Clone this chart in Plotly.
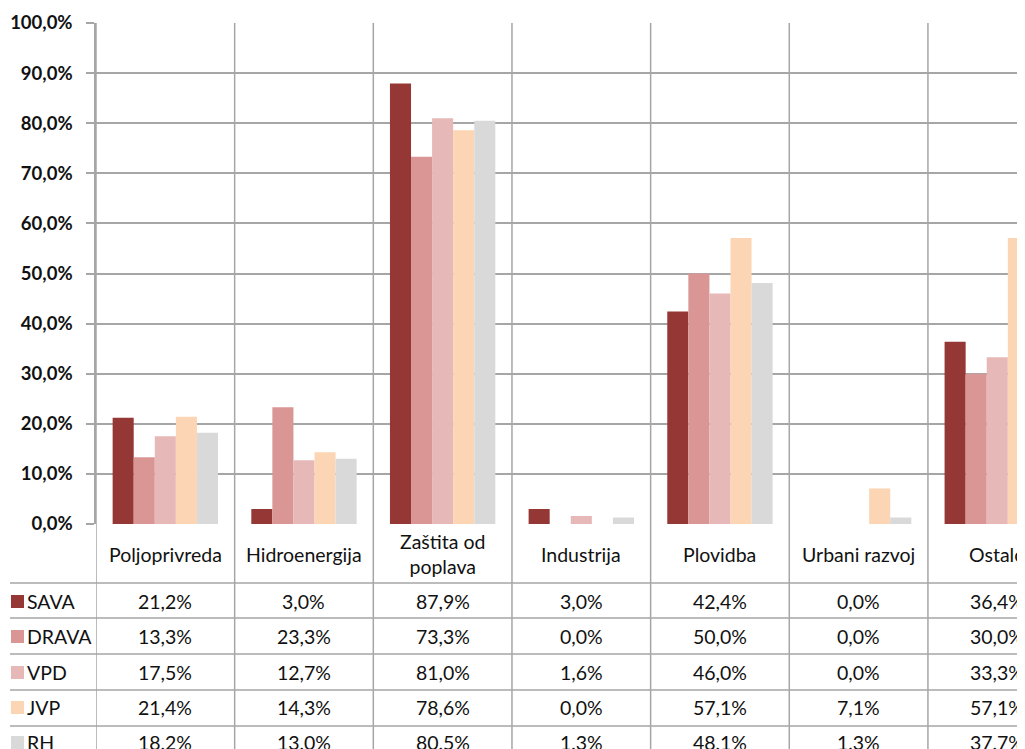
import plotly.graph_objects as go

# data
categories = ["Poljoprivreda", "Hidroenergija", "Zaštita od poplava", "Industrija",
              "Plovidba", "Urbani razvoj", "Ostalo"]
header_labels = ["Poljoprivreda", "Hidroenergija", "Zaštita od<br>poplava", "Industrija",
                 "Plovidba", "Urbani razvoj", "Ostalo"]
series_names = ["SAVA", "DRAVA", "VPD", "JVP", "RH"]
sava = [21.2, 3.0, 87.9, 3.0, 42.4, 0.0, 36.4]
drava = [13.3, 23.3, 73.3, 0.0, 50.0, 0.0, 30.0]
vpd = [17.5, 12.7, 81.0, 1.6, 46.0, 0.0, 33.3]
jvp = [21.4, 14.3, 78.6, 0.0, 57.1, 7.1, 57.1]
rh = [18.2, 13.0, 80.5, 1.3, 48.1, 1.3, 37.7]
tick_vals = [0, 10, 20, 30, 40, 50, 60, 70, 80, 90, 100]
tick_text = ["0,0%", "10,0%", "20,0%", "30,0%", "40,0%", "50,0%", "60,0%",
             "70,0%", "80,0%", "90,0%", "100,0%"]

colors = ["#953735", "#D99694", "#E6B9B8", "#FCD5B5", "#D9D9D9"]
series = [sava, drava, vpd, jvp, rh]

# the page body adds an 8px offset, so work in page pixels minus 8
OFF = 8
W, H = 1025 - OFF, 749 - OFF
left, top, bottom_px = 96 - OFF, 23 - OFF, 524 - OFF
plot_h = bottom_px - top
plot_w = W - left
line_col = "#a6a6a6"
font_name = "Lato, Open Sans, sans-serif"
tsize = 19.5


def py(page_y):
    # page pixel row -> paper y
    return (bottom_px - (page_y - OFF)) / plot_h


def px_(page_x):
    return (page_x - OFF - left) / plot_w


def fmt(v):
    return f"{v:.1f}".replace(".", ",") + "%"


fig = go.Figure()
for name, vals, col in zip(series_names, series, colors):
    fig.add_trace(go.Bar(name=name, x=list(range(len(categories))), y=vals,
                         marker=dict(color=col, line=dict(width=0))))

shapes = []
annotations = []

# vertical table / category separators
for i in range(len(categories)):
    shapes.append(dict(type="line", xref="x", yref="paper", x0=i - 0.5, x1=i - 0.5,
                       y0=py(760), y1=1, line=dict(color=line_col, width=1.5)))

# horizontal table lines
row_lines = [583, 618, 654, 690, 726]
for yl in row_lines:
    shapes.append(dict(type="line", xref="paper", yref="paper", x0=px_(10), x1=1.05,
                       y0=py(yl), y1=py(yl), line=dict(color=line_col, width=1.5)))

# header row
for i, lab in enumerate(header_labels):
    annotations.append(dict(x=i, y=py(554), xref="x", yref="paper", text=lab,
                            showarrow=False, font=dict(size=tsize, color="#111"),
                            xanchor="center", yanchor="middle"))

# data rows with legend keys
row_centers = [601, 636, 672, 707, 742]
for name, vals, col, yc in zip(series_names, series, colors, row_centers):
    shapes.append(dict(type="rect", xref="paper", yref="paper",
                       x0=px_(11), x1=px_(24), y0=py(yc + 7), y1=py(yc - 6),
                       fillcolor=col, line=dict(width=0)))
    annotations.append(dict(x=px_(25), y=py(yc), xref="paper", yref="paper", text=name,
                            showarrow=False, font=dict(size=tsize, color="#111"),
                            xanchor="left", yanchor="middle"))
    for i, v in enumerate(vals):
        annotations.append(dict(x=i, y=py(yc), xref="x", yref="paper", text=fmt(v),
                                showarrow=False, font=dict(size=tsize, color="#111"),
                                xanchor="center", yanchor="middle"))

fig.update_layout(
    width=W, height=H,
    margin=dict(l=left, r=0, t=top, b=H - bottom_px),
    paper_bgcolor="white", plot_bgcolor="white",
    barmode="group", bargap=0.24, bargroupgap=0,
    showlegend=False,
    font=dict(family=font_name, size=tsize, color="#111"),
    shapes=shapes, annotations=annotations,
    xaxis=dict(range=[-0.5, 6.2], showticklabels=False, showgrid=False,
               zeroline=False, showline=False, ticks=""),
    yaxis=dict(range=[0, 100], tickvals=tick_vals, ticktext=tick_text,
               showgrid=True, gridcolor=line_col, gridwidth=1.5,
               zeroline=False, showline=True, linecolor=line_col, linewidth=1.5,
               ticks="outside", ticklen=8, tickcolor=line_col, tickwidth=1.5,
               ticklabelstandoff=10,
               tickfont=dict(family=font_name, size=18.5, color="#111", weight="bold")),
)

fig.write_html("out.html")
